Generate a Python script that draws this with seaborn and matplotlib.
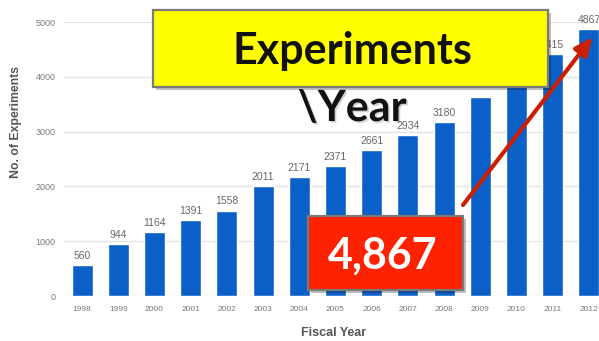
import matplotlib
matplotlib.use("Agg")
import matplotlib.pyplot as plt
import matplotlib.patheffects as pe
from matplotlib.patches import Rectangle
import pandas as pd
import seaborn as sns

# Experiments run per fiscal year
years = ["1998", "1999", "2000", "2001", "2002", "2003", "2004", "2005",
         "2006", "2007", "2008", "2009", "2010", "2011", "2012"]
experiments = [560, 944, 1164, 1391, 1558, 2011, 2171, 2371,
               2661, 2934, 3180, 3640, 3960, 4415, 4867]
# bar labels hidden behind the callouts are left out
label_text = ["560", "944", "1164", "1391", "1558", "2011", "2171", "2371",
              "2661", "2934", "3180", "", "", "4415", "4867"]
y_ticks = [0, 1000, 2000, 3000, 4000, 5000]

title_line1 = "Experiments"
title_line2 = "\\Year"
callout = "4,867"

df = pd.DataFrame({"year": years, "n": experiments})

sns.set_theme(style="white")
plt.rcParams["font.family"] = ["Liberation Sans", "DejaVu Sans"]

W, H = 599, 341
fig = plt.figure(figsize=(W / 100, H / 100), dpi=100)
fig.patch.set_facecolor("white")

# axes: left at x=64px, right beyond figure edge, y from 22px to 296px
ax = fig.add_axes([64 / W, 1 - 296 / H, 543 / W, 274 / H])

sns.barplot(data=df, x="year", y="n", order=years, color="#0b60c8",
            saturation=1, width=0.58, ax=ax, zorder=3)

ax.set_ylim(0, 5000)
ax.set_xlim(-0.5, len(years) - 0.5)
ax.set_yticks(y_ticks)
ax.set_yticklabels([str(t) for t in y_ticks])
ax.yaxis.grid(True, color="#e3e3e3", linewidth=1.0, zorder=0)
ax.set_axisbelow(True)
for s in ax.spines.values():
    s.set_visible(False)
ax.tick_params(axis="both", length=0, colors="#7a7a7a")
ax.tick_params(axis="y", pad=6, labelsize=6.5)
ax.tick_params(axis="x", pad=7, labelsize=6)

ax.bar_label(ax.containers[0], labels=label_text, padding=3,
             fontsize=7.5, color="#666666", clip_on=False)

ax.set_xlabel("Fiscal Year", fontsize=9, fontweight="bold", color="#555555")
ax.set_ylabel("No. of Experiments", fontsize=8.8, fontweight="bold", color="#555555")
ax.xaxis.set_label_coords(0.497, -0.113)
ax.yaxis.set_label_coords(-0.078, 0.635)

# red arrow from the callout box to the latest bar
last = len(years) - 1
ax.annotate("", xy=(last + 0.1, experiments[last] - 140), xycoords="data",
            xytext=(463 / W, 1 - 205 / H), textcoords="figure fraction",
            arrowprops=dict(arrowstyle="-|>,head_length=0.9,head_width=0.4",
                            color="#cc1f00", lw=3.0, shrinkA=0, shrinkB=0),
            annotation_clip=False, zorder=6)

shadow = [pe.SimplePatchShadow(offset=(2, -2), shadow_rgbFace="#000000", alpha=0.25),
          pe.Normal()]
title_font = ["Lato", "DejaVu Sans"]

# yellow title box
ybox = Rectangle((153 / W, 1 - 87 / H), 395 / W, 77 / H, transform=fig.transFigure,
                 facecolor="#ffff00", edgecolor="#7a7a7a", linewidth=1.6, zorder=5)
ybox.set_path_effects(shadow)
fig.add_artist(ybox)
fig.text(352 / W, 1 - 51 / H, title_line1, ha="center", va="center",
         fontsize=31, fontweight="bold", family=title_font,
         color="#111111", zorder=6)
fig.text(352 / W, 1 - 108 / H, title_line2, ha="center", va="center",
         fontsize=31, fontweight="bold", family=title_font,
         color="#111111", zorder=6,
         path_effects=[pe.withSimplePatchShadow(offset=(1.2, -1.2), alpha=0.18)])

# red value callout
rbox = Rectangle((308 / W, 1 - 290 / H), 155 / W, 74 / H, transform=fig.transFigure,
                 facecolor="#ff2200", edgecolor="#7a7a7a", linewidth=1.6, zorder=5)
rbox.set_path_effects(shadow)
fig.add_artist(rbox)
fig.text(383 / W, 1 - 256 / H, callout, ha="center", va="center",
         fontsize=31, fontweight="bold", family=title_font,
         color="white", zorder=6)

fig.savefig("out.png", dpi=100, facecolor="white")
